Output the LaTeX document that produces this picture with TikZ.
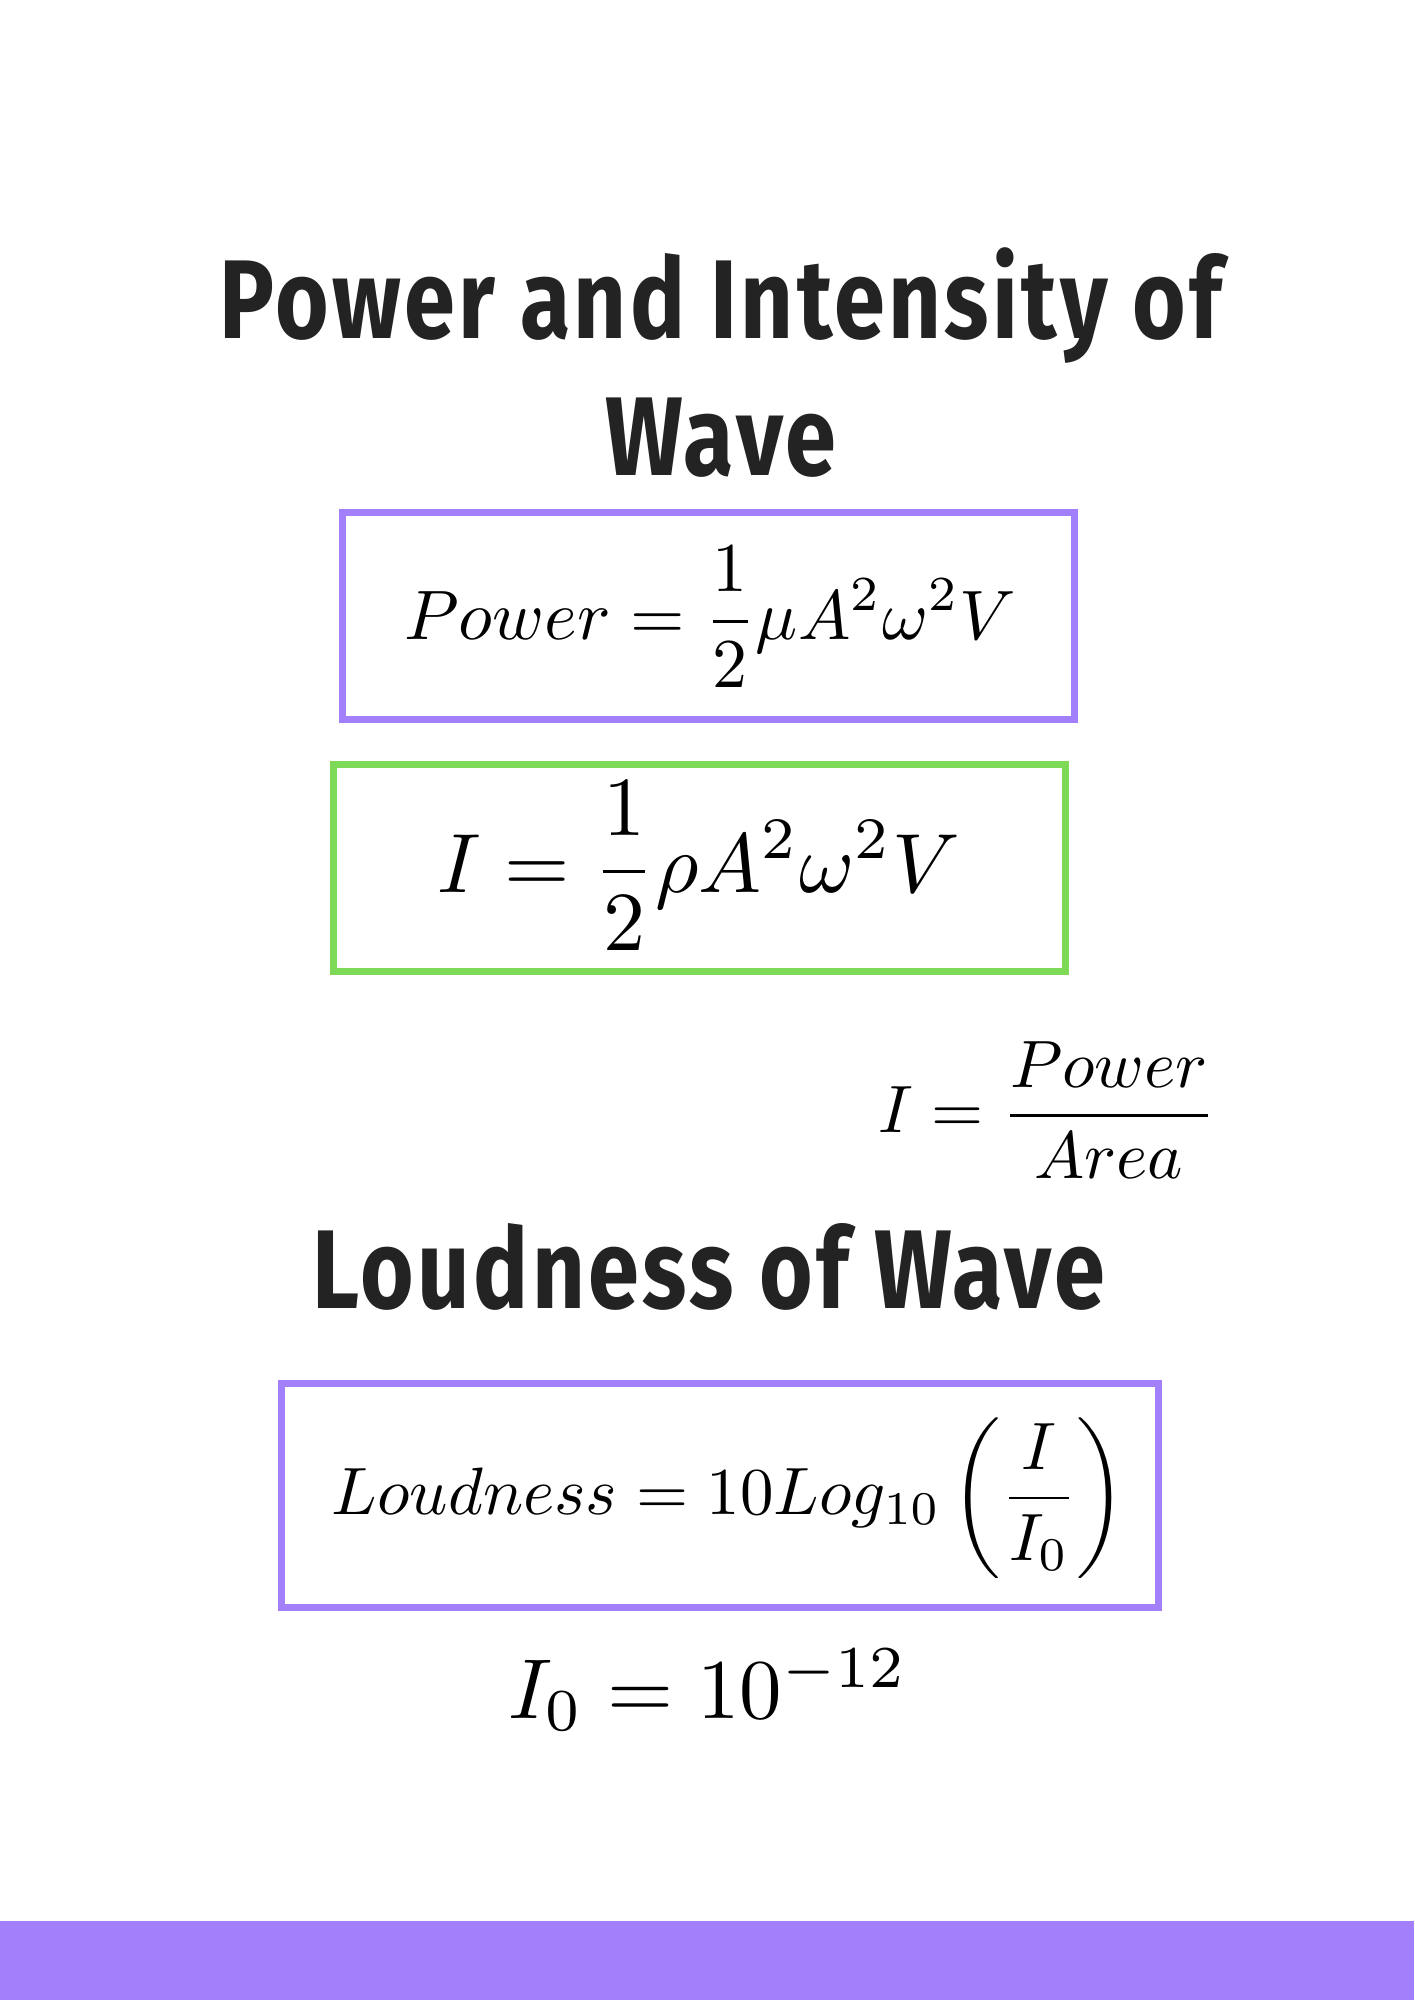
\documentclass[tikz,border=0pt]{standalone}
\usepackage{amsmath}
\usepackage{fontspec}
\usepackage{tikz}
\newfontfamily\handfont[FakeStretch=0.82,LetterSpace=3]{Fira Sans}
\definecolor{boxpurple}{HTML}{A280FC}
\definecolor{boxgreen}{HTML}{7ED957}
\definecolor{inkgray}{HTML}{232323}
\tikzset{
  heading/.style={font=\handfont\bfseries\fontsize{112}{130}\selectfont, text=inkgray, anchor=base, inner sep=0pt},
  formula/.style={inner sep=0pt},
  purplebox/.style={draw=boxpurple, line width=7pt},
  greenbox/.style={draw=boxgreen, line width=7pt}
}
\begin{document}
\begin{tikzpicture}[x=1pt,y=-1pt]
  \fill[white] (0,0) rectangle (1414,2000);
  \useasboundingbox (0,0) rectangle (1414,2000);
  % headings
  \node[heading] (titleA) at (721,338) {Power and Intensity of};
  \node[heading] (titleB) at (721,475) {Wave};
  \node[heading] (loudhead) at (709,1308) {Loudness of Wave};
  % power and intensity
  \draw[purplebox] (342.5,512.5) rectangle (1074.5,719.5);
  \node[formula, scale=7.0] (power) at (710,617)
    {$\displaystyle Power = \frac{1}{2}\mu A^2\omega^2 V$};
  \draw[greenbox] (333.5,764.5) rectangle (1065.5,971);
  \node[formula, scale=8.4] (intens) at (699,866)
    {$\displaystyle I = \frac{1}{2}\rho A^2\omega^2 V$};
  \node[formula, scale=6.7] (ratio) at (1047,1110)
    {$\displaystyle I = \frac{Power}{Area}$};
  % loudness
  \draw[purplebox] (281,1383.5) rectangle (1158.5,1607);
  \node[formula, scale=6.7] (loud) at (729,1498)
    {$\displaystyle Loudness = 10 Log_{10}\left(\frac{I}{I_0}\right)$};
  \node[formula, scale=8.5] (izero) at (708,1690)
    {$I_0 = 10^{-12}$};
  % bottom band
  \fill[boxpurple] (0,1921) rectangle (1414,2000);
\end{tikzpicture}
\end{document}
